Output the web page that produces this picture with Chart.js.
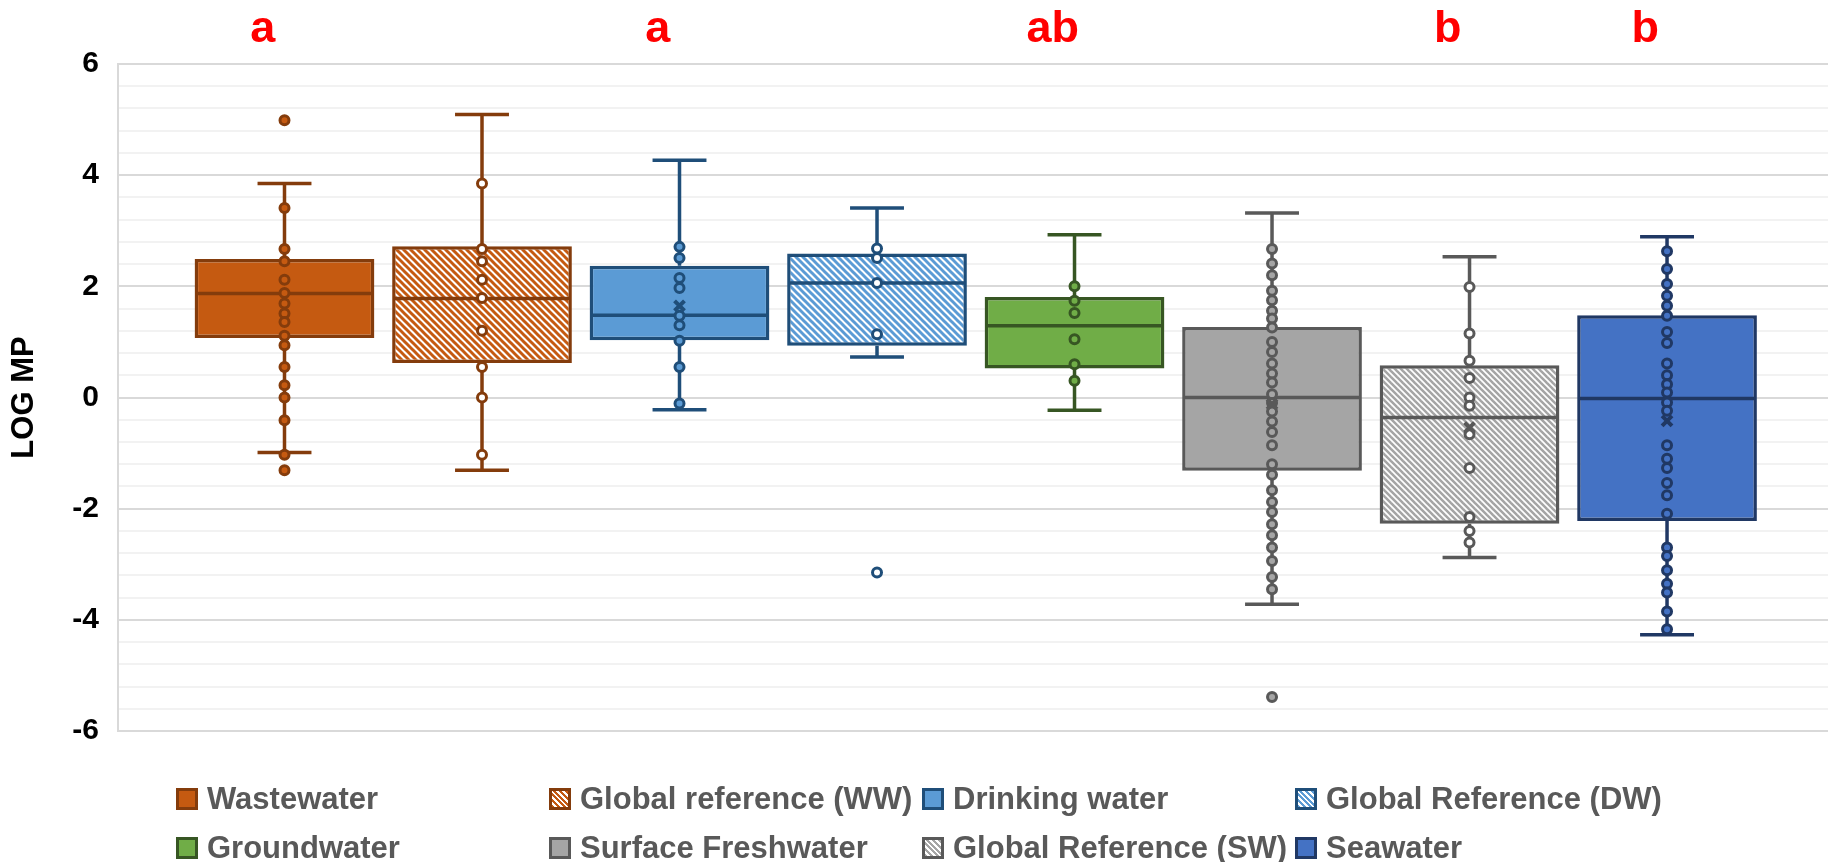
<!DOCTYPE html>
<html lang="en">
<head>
<meta charset="UTF-8">
<title>LOG MP by water type</title>
<script src="https://cdn.jsdelivr.net/npm/chart.js@4.4.1/dist/chart.umd.min.js"></script>
<style>
    body {
        margin: 0;
        background: #ffffff;
        font-family: 'Liberation Sans', Arial, sans-serif;
        overflow: hidden;
    }

    .wrap {
        position: relative;
        width: 1828px;
        height: 862px;
        overflow: hidden;
    }

    #chart {
        display: block;
    }

    #legend {
        position: absolute;
        left: 176px;
        top: 774px;
        display: grid;
        grid-template-columns: repeat(4, 373px);
        grid-auto-rows: 49px;
    }

    .item {
        display: flex;
        align-items: center;
        font-weight: bold;
        font-size: 31px;
        color: #595959;
        white-space: nowrap;
    }

    .swatch {
        width: 16px;
        height: 16px;
        border: 3px solid;
        margin-right: 9px;
        flex: none;
    }
</style>
</head>
<body>
<div class="wrap">
    <!-- a little wider than the window so the plot area reaches the right edge -->
    <canvas id="chart" width="1839" height="862"></canvas>
    <div id="legend"></div>
</div>
<script>
    const categories = ['Wastewater', 'Global reference (WW)', 'Drinking water', 'Global Reference (DW)',
        'Groundwater', 'Surface Freshwater', 'Global Reference (SW)', 'Seawater'];

    const q1 = [1.07, 0.62, 1.03, 0.93, 0.52, -1.32, -2.27, -2.22];
    const q3 = [2.49, 2.72, 2.37, 2.59, 1.81, 1.27, 0.58, 1.48];
    const median = [1.87, 1.78, 1.48, 2.06, 1.29, 0.0, -0.36, -0.02];
    const whiskerLow = [-0.99, -1.31, -0.22, 0.73, -0.23, -3.72, -2.88, -4.27];
    const whiskerHigh = [3.85, 5.09, 4.27, 3.41, 2.93, 3.32, 2.53, 2.89];
    const means = [null, null, 1.65, null, null, -0.12, -0.54, -0.42];

    // individual observations per group
    const wastewaterPts = [4.99, 3.41, 2.67, 2.45, 2.12, 1.88, 1.69, 1.51, 1.36, 1.11, 0.94, 0.55, 0.22, 0.0, -0.41, -1.03, -1.31];
    const wwRefPts = [3.85, 2.67, 2.45, 2.12, 1.79, 1.2, 0.55, 0.0, -1.03];
    const drinkingPts = [2.71, 2.51, 2.15, 1.97, 1.47, 1.30, 1.02, 0.55, -0.11];
    const dwRefPts = [2.68, 2.51, 2.06, 1.14, -3.15];
    const groundPts = [2.0, 1.74, 1.52, 1.05, 0.60, 0.30];
    const surfacePts = [2.67, 2.41, 2.2, 1.92, 1.75, 1.56, 1.42, 1.26, 1.0, 0.82, 0.61, 0.43, 0.27, 0.06, -0.1,
        -0.25, -0.43, -0.62, -0.86, -1.2, -1.39, -1.67, -1.88, -2.06, -2.28, -2.48, -2.70, -2.94, -3.23, -3.45, -5.39];
    const swRefPts = [1.99, 1.15, 0.66, 0.35, 0.0, -0.15, -0.66, -1.27, -2.15, -2.40, -2.61];
    const seaPts = [2.63, 2.31, 2.04, 1.83, 1.65, 1.47, 1.18, 0.98, 0.61, 0.40, 0.24, 0.09, -0.09, -0.24, -0.86,
        -1.10, -1.27, -1.54, -1.76, -2.09, -2.70, -2.85, -3.11, -3.35, -3.51, -3.85, -4.17];
    const points = [wastewaterPts, wwRefPts, drinkingPts, dwRefPts, groundPts, surfacePts, swRefPts, seaPts];

    // significance letters and the group they sit over
    const letters = ['a', 'a', 'ab', 'b', 'b'];
    const letterGroup = [0, 2, 4, 6, 7];

    const fillColors = ['#C55A11', '#C55A11', '#5B9BD5', '#5B9BD5', '#70AD47', '#A5A5A5', '#A5A5A5', '#4472C4'];
    const lineColors = ['#843C0C', '#843C0C', '#1F4E79', '#1F4E79', '#375623', '#595959', '#595959', '#203864'];
    const hatched = [false, true, false, true, false, false, true, false];

    function hatch(color, size) {
        const c = document.createElement('canvas');
        c.width = c.height = size;
        const g = c.getContext('2d');
        g.fillStyle = '#ffffff';
        g.fillRect(0, 0, size, size);
        g.strokeStyle = color;
        g.lineWidth = size * 0.42;
        [-size, 0, size].forEach(off => {
            g.beginPath();
            g.moveTo(off - 2, -2);
            g.lineTo(off + size + 2, size + 2);
            g.stroke();
        });
        return g.createPattern(c, 'repeat');
    }

    const boxFills = fillColors.map((c, i) => hatched[i] ? hatch(c, c === '#A5A5A5' ? 6 : 7) : c);

    function isMajor(v) {
        return Math.abs(v / 2 - Math.round(v / 2)) < 1e-6;
    }

    // median, whiskers and caps drawn on top of the boxes
    const boxParts = {
        id: 'boxParts',
        afterDatasetDraw(chart, args) {
            if (args.index !== 0) return;
            const { ctx, scales: { y } } = chart;
            const meta = chart.getDatasetMeta(0);
            ctx.save();
            categories.forEach((c, i) => {
                const bar = meta.data[i];
                const cx = bar.x;
                const half = bar.width / 2;
                const cap = bar.width * 0.15;
                const yHi = y.getPixelForValue(whiskerHigh[i]);
                const yLo = y.getPixelForValue(whiskerLow[i]);
                ctx.strokeStyle = lineColors[i];
                ctx.lineWidth = 3.5;
                ctx.beginPath();
                ctx.moveTo(cx, y.getPixelForValue(q3[i]));
                ctx.lineTo(cx, yHi);
                ctx.moveTo(cx, y.getPixelForValue(q1[i]));
                ctx.lineTo(cx, yLo);
                ctx.moveTo(cx - cap, yHi);
                ctx.lineTo(cx + cap, yHi);
                ctx.moveTo(cx - cap, yLo);
                ctx.lineTo(cx + cap, yLo);
                const ym = y.getPixelForValue(median[i]);
                ctx.moveTo(cx - half + 2, ym);
                ctx.lineTo(cx + half - 2, ym);
                ctx.stroke();
            });
            ctx.restore();
        }
    };

    const sigLetters = {
        id: 'sigLetters',
        afterDraw(chart) {
            const { ctx, chartArea, scales: { x } } = chart;
            ctx.save();
            ctx.fillStyle = '#FF0000';
            ctx.font = 'bold 45px "Liberation Sans", Arial, sans-serif';
            ctx.textAlign = 'center';
            ctx.textBaseline = 'alphabetic';
            letters.forEach((t, k) => {
                ctx.fillText(t, x.getPixelForValue(letterGroup[k] - 0.11), chartArea.top - 22);
            });
            ctx.restore();
        }
    };

    const datasets = [{
        type: 'bar',
        data: categories.map((c, i) => ({ x: i, y: [q1[i], q3[i]] })),
        backgroundColor: boxFills,
        borderColor: lineColors,
        borderWidth: 3.5,
        borderSkipped: false,
        barPercentage: 0.91,
        categoryPercentage: 1,
        order: 3
    }];

    points.forEach((arr, i) => {
        datasets.push({
            type: 'scatter',
            data: arr.map(v => ({ x: i, y: v })),
            pointRadius: 4.5,
            pointBorderWidth: 3,
            pointBorderColor: lineColors[i],
            pointBackgroundColor: hatched[i] ? '#ffffff' : fillColors[i],
            order: 1
        });
    });

    datasets.push({
        type: 'scatter',
        data: means.map((v, i) => ({ x: i, y: v })).filter(p => p.y !== null),
        pointStyle: 'crossRot',
        pointRadius: 7,
        pointBorderWidth: 4,
        pointBorderColor: means.map((v, i) => lineColors[i]).filter((c, i) => means[i] !== null),
        order: 0
    });

    new Chart(document.getElementById('chart'), {
        type: 'bar',
        data: { datasets: datasets },
        plugins: [boxParts, sigLetters],
        options: {
            responsive: false,
            animation: false,
            events: [],
            layout: {
                padding: { top: 64, bottom: 131, left: 0, right: 0 }
            },
            plugins: {
                legend: { display: false },
                tooltip: { enabled: false }
            },
            scales: {
                x: {
                    type: 'linear',
                    min: -0.843,
                    max: 7.815,
                    offset: false,
                    display: false,
                    ticks: { display: false },
                    // one tick per group so bar widths come from the group spacing
                    afterBuildTicks(scale) {
                        scale.ticks = categories.map((c, i) => ({ value: i }));
                    }
                },
                y: {
                    min: -6,
                    max: 6,
                    afterFit(scale) {
                        scale.width = 118;
                    },
                    ticks: {
                        stepSize: 0.4,
                        autoSkip: false,
                        padding: 19,
                        color: '#000000',
                        font: { family: 'Liberation Sans', size: 30, weight: 'bold' },
                        callback: v => isMajor(v) ? String(Math.round(v)) : ''
                    },
                    grid: {
                        drawTicks: false,
                        lineWidth: 2,
                        color: ctx => isMajor(ctx.tick.value) ? '#d9d9d9' : '#f2f2f2'
                    },
                    border: { display: true, color: '#d9d9d9', width: 2 },
                    title: {
                        display: true,
                        text: 'LOG MP',
                        color: '#000000',
                        font: { family: 'Liberation Sans', size: 31, weight: 'bold' },
                        padding: { top: 6, bottom: 0 }
                    }
                }
            }
        }
    });

    // legend laid out in four fixed columns
    const legend = document.getElementById('legend');
    categories.forEach((name, i) => {
        const item = document.createElement('div');
        item.className = 'item';
        const sw = document.createElement('span');
        sw.className = 'swatch';
        sw.style.borderColor = lineColors[i];
        sw.style.background = hatched[i]
            ? 'repeating-linear-gradient(45deg, ' + fillColors[i] + ' 0 2px, #ffffff 2px 4px)'
            : fillColors[i];
        item.appendChild(sw);
        item.appendChild(document.createTextNode(name));
        legend.appendChild(item);
    });
</script>
</body>
</html>
